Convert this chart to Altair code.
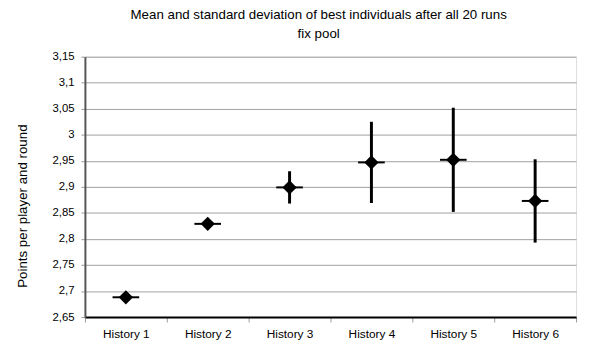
import altair as alt
import pandas as pd

categories = ["History 1", "History 2", "History 3", "History 4", "History 5", "History 6"]
means = [2.688, 2.829, 2.899, 2.947, 2.952, 2.873]
sds = [0.003, 0.003, 0.031, 0.078, 0.100, 0.080]
y_ticks = [2.65, 2.7, 2.75, 2.8, 2.85, 2.9, 2.95, 3.0, 3.05, 3.1, 3.15]

df = pd.DataFrame({"cat": categories, "mean": means, "sd": sds})
df["lo"] = df["mean"] - df["sd"]
df["hi"] = df["mean"] + df["sd"]

FONT = "Liberation Sans"

x_enc = alt.X(
    "cat:N",
    sort=categories,
    title=None,
    scale=alt.Scale(paddingInner=0, paddingOuter=0),
    axis=alt.Axis(
        labelAngle=0,
        tickBand="extent",
        grid=False,
        domainColor="black",
        domainWidth=2,
        tickColor="#999999",
        tickSize=5,
        labelPadding=7,
        labelFontSize=12,
        labelColor="black",
        labelFont=FONT,
    ),
)

y_scale = alt.Scale(domain=[2.65, 3.15], nice=False, zero=False)
y_axis = alt.Axis(
    values=y_ticks,
    tickCount=len(y_ticks),
    labelExpr="replace(format(datum.value, '.2~f'), '.', ',')",
    labelOverlap=False,
    title="Points per player and round",
    titleFontSize=13.5,
    titleFontWeight="normal",
    titleFont=FONT,
    titleColor="black",
    titleX=-63,
    titleY=151,
    titleAlign="center",
    titleBaseline="middle",
    titleAngle=270,
    grid=True,
    gridColor="#a0a0a0",
    gridWidth=1,
    domainColor="#555555",
    domainWidth=2,
    tickColor="#999999",
    tickSize=4,
    labelPadding=7,
    labelFontSize=11.5,
    labelColor="black",
    labelFont=FONT,
)

base = alt.Chart(df)

bars = base.mark_rule(color="black", strokeWidth=3).encode(
    x=x_enc,
    y=alt.Y("lo:Q", scale=y_scale, axis=y_axis),
    y2="hi:Q",
)

dash = base.mark_tick(orient="horizontal", color="black", size=27, thickness=2, opacity=1).encode(
    x=x_enc,
    y=alt.Y("mean:Q", scale=y_scale),
)

pts = base.mark_point(shape="diamond", filled=True, size=210, color="black", opacity=1).encode(
    x=x_enc,
    y=alt.Y("mean:Q", scale=y_scale),
)

chart = (
    alt.layer(bars, dash, pts)
    .properties(
        width=498,
        height=264,
        autosize=alt.AutoSizeParams(type="none"),
        padding={"left": 78, "top": 47, "right": 5, "bottom": 30},
        title=alt.TitleParams(
            ["Mean and standard deviation of best individuals after all 20 runs", "fix pool"],
            fontSize=13.5,
            fontWeight="normal",
            font=FONT,
            color="black",
            lineHeight=20,
            offset=10,
            dx=-12,
            anchor="middle",
        ),
    )
    .configure_view(stroke="#666666", strokeWidth=1.5)
    .configure(background="white")
)

chart.save("out.html", embed_options={"renderer": "svg", "actions": False})
